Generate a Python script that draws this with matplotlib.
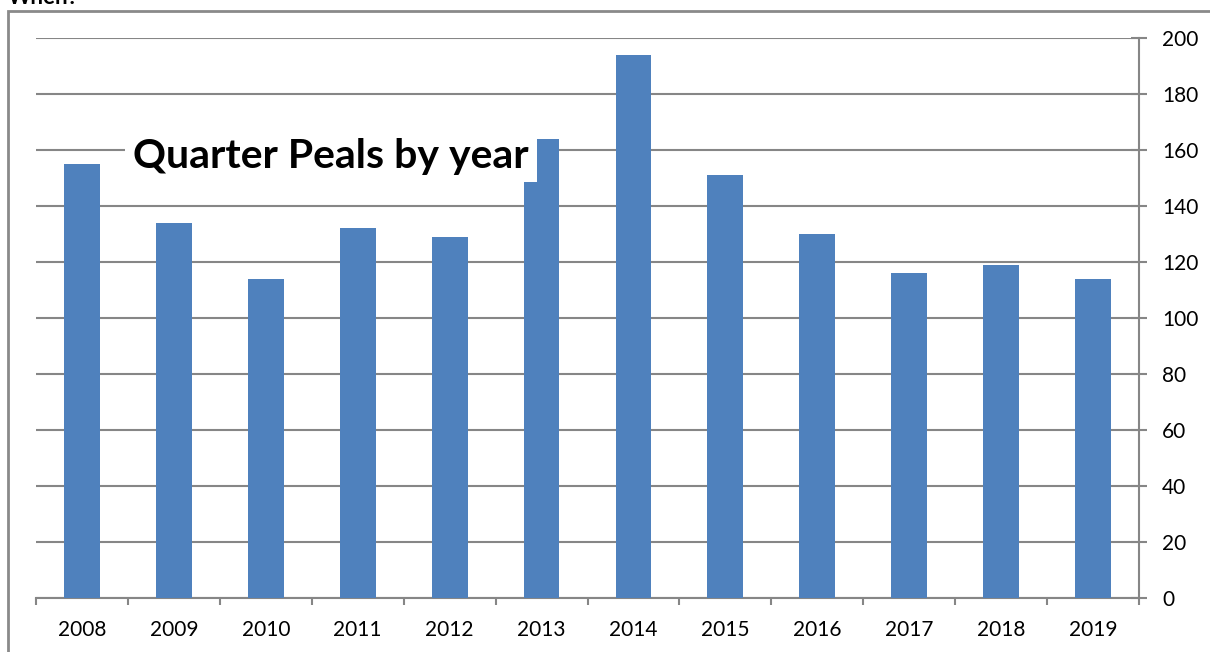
import matplotlib
matplotlib.use("Agg")
import matplotlib.pyplot as plt
from matplotlib.patches import Rectangle
import numpy as np

years = ["2008", "2009", "2010", "2011", "2012", "2013", "2014", "2015", "2016", "2017", "2018", "2019"]
peals = [155, 134, 114, 132, 129, 164, 194, 151, 130, 116, 119, 114]
yticks = [0, 20, 40, 60, 80, 100, 120, 140, 160, 180, 200]

plt.rcParams['font.family'] = ['Lato', 'DejaVu Sans']
W, H = 1210, 652
fig = plt.figure(figsize=(W / 100, H / 100), dpi=100)

ax = fig.add_axes([36 / W, 1 - 598 / H, (1139 - 36) / W, (598 - 38) / H])
x = np.arange(len(years))
grid_c = '#868686'
ax.bar(x, peals, width=0.39, color='#4F81BD', zorder=3)
ax.set_xlim(-0.5, len(years) - 0.5)
ax.set_ylim(0, 200)
ax.set_yticks(yticks)
ax.yaxis.tick_right()
ax.yaxis.grid(True, color=grid_c, linewidth=1.5, zorder=0)
ax.set_axisbelow(True)
for s in ['top', 'left']:
    ax.spines[s].set_visible(False)
for s in ['right', 'bottom']:
    ax.spines[s].set_color(grid_c)
    ax.spines[s].set_linewidth(1.5)
ax.tick_params(axis='y', colors=grid_c, direction='inout', length=11, width=1.5,
               labelcolor='black', labelsize=15, pad=11)
ax.set_xticks(np.arange(-0.5, len(years)), minor=False)
ax.set_xticklabels([])
ax.set_xticks(x, minor=True)
ax.set_xticklabels(years, minor=True)
ax.tick_params(axis='x', which='major', colors=grid_c, length=5, width=1.5)
ax.tick_params(axis='x', which='minor', length=0, labelsize=15, pad=16, labelcolor='black')

# white box behind the title (covers gridline and part of the 2013 bar)
fig.patches.append(Rectangle((125 / W, 1 - 182 / H), (537 - 125) / W, (182 - 128) / H,
                             transform=fig.transFigure, facecolor='white',
                             edgecolor='none', zorder=5))
fig.text(133 / W, 1 - 168 / H, "Quarter Peals by year", fontsize=29.5, fontweight='bold',
         ha='left', va='baseline', zorder=10)

# outer frame
fig.patches.append(Rectangle((8 / W, -0.1), 1.2, 1.1 - 11 / H,
                             transform=fig.transFigure, fill=False,
                             edgecolor='#8a8a8a', linewidth=2, zorder=6))
# cut-off heading above chart
fig.text(8 / W, 1 - 4 / H, "When?", fontsize=16, fontweight='bold', ha='left', va='baseline')

fig.savefig("out.png", dpi=100)
